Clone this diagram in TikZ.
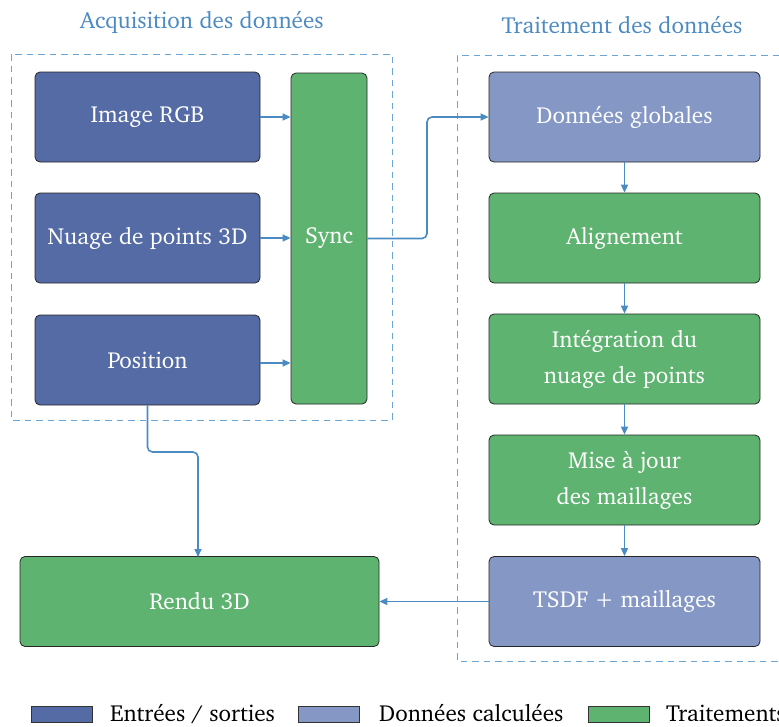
\documentclass[tikz,border=0pt]{standalone}
\usepackage[T1]{fontenc}
\usepackage{charter}
\usetikzlibrary{arrows.meta,calc}
\definecolor{darkbl}{HTML}{556BA5}
\definecolor{lightbl}{HTML}{8597C4}
\definecolor{grn}{HTML}{5FB370}
\definecolor{arrc}{HTML}{4C8AC2}
\definecolor{dashc}{HTML}{6AA5D6}
\tikzset{
  box/.style={draw=black!85, line width=0.8pt, rounded corners=5pt, text=white,
    font=\fontsize{23.2}{36}\selectfont, align=center, inner sep=0pt},
  iobox/.style={box, fill=darkbl},
  calcbox/.style={box, fill=lightbl},
  procbox/.style={box, fill=grn},
  arr/.style={draw=arrc, line width=1.6pt, -{Triangle[length=8pt,width=7pt]}},
  grp/.style={draw=dashc, line width=0.9pt, dash pattern=on 6.5pt off 5pt},
  ttl/.style={text=arrc, font=\fontsize{23.2}{28}\selectfont, anchor=base},
  legbox/.style={draw=black!80, line width=0.6pt, minimum width=61pt, minimum height=16pt, inner sep=0pt},
  legtxt/.style={font=\fontsize{23.2}{28}\selectfont, anchor=base west, inner sep=0pt}
}
\begin{document}
\begin{tikzpicture}[x=1pt,y=-1pt]
\useasboundingbox (0,0) rectangle (779,726);
% groups
\draw[grp] (11,54) rectangle (392,420);
\draw[grp] (779,55) -- (457,55) -- (457,661) -- (779,661);
\node[ttl] (t1) at (202,28) {Acquisition des donn\'ees};
\node[ttl] (t2) at (622,33) {Traitement des donn\'ees};
% left
\node[iobox, minimum width=225pt, minimum height=90pt] (rgb) at (147.5,117) {Image RGB};
\node[iobox, minimum width=225pt, minimum height=90pt] (nuage) at (147.5,238) {Nuage de points 3D};
\node[iobox, minimum width=225pt, minimum height=90pt] (pos) at (147.5,360) {Position};
\node[procbox, minimum width=76pt, minimum height=331pt] (sync) at (329,238.5) {Sync};
% right
\node[calcbox, minimum width=271pt, minimum height=90pt] (glob) at (624.5,117) {Donn\'ees globales};
\node[procbox, minimum width=271pt, minimum height=90pt] (align) at (624.5,238) {Alignement};
\node[procbox, minimum width=271pt, minimum height=90pt] (integ) at (624.5,359) {Int\'egration du\\nuage de points};
\node[procbox, minimum width=271pt, minimum height=90pt] (maj) at (624.5,480) {Mise \`a jour\\des maillages};
\node[calcbox, minimum width=271pt, minimum height=90pt] (tsdf) at (624.5,601.5) {TSDF + maillages};
\node[procbox, minimum width=359pt, minimum height=90pt] (rendu) at (199.5,601.5) {Rendu 3D};
% arrows
\draw[arr] (rgb.east) -- (rgb.east -| sync.west);
\draw[arr] (nuage.east) -- (nuage.east -| sync.west);
\draw[arr] ([yshift=-3pt]pos.east) -- ([yshift=-3pt]pos.east -| sync.west);
\draw[arr, rounded corners=5pt] (sync.east) -- (427,238.5) -- (427,117) -- (glob.west);
\draw[arr, rounded corners=5pt] (pos.south) -- (147.5,452) -- (198,452) -- (198,557);
\draw[arr] (glob.south) -- (align.north);
\draw[arr] (align.south) -- (integ.north);
\draw[arr] (integ.south) -- (maj.north);
\draw[arr] (maj.south) -- (tsdf.north);
\draw[arr] (tsdf.west) -- (rendu.east);
% legend
\node[legbox, fill=darkbl] (l1) at (61.5,714) {};
\node[legtxt] (l1t) at (110,721) {Entr\'ees / sorties};
\node[legbox, fill=lightbl] (l2) at (328.5,714) {};
\node[legtxt] (l2t) at (379,721) {Donn\'ees calcul\'ees};
\node[legbox, fill=grn] (l3) at (618.5,714) {};
\node[legtxt] (l3t) at (666,721) {Traitements};
\end{tikzpicture}
\end{document}
